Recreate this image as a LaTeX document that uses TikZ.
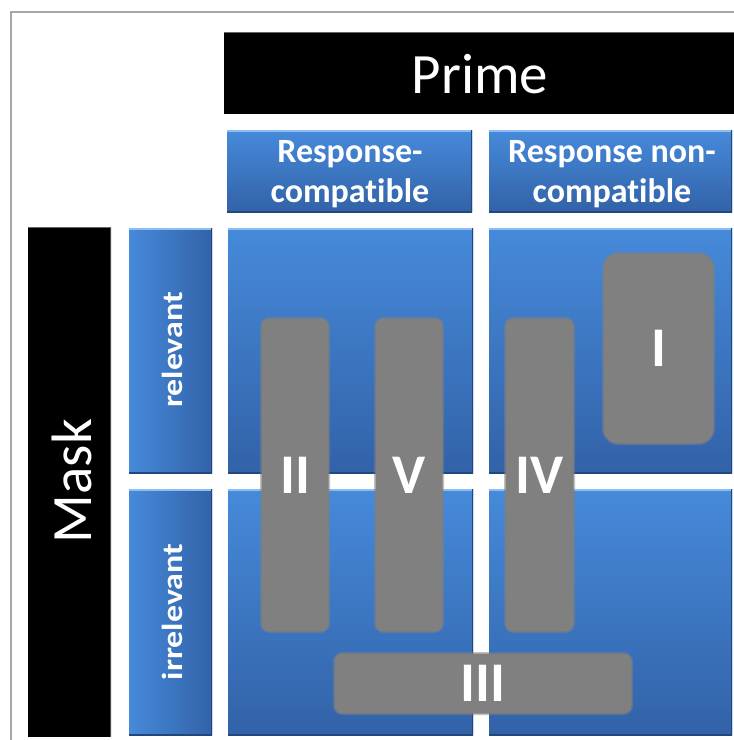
\documentclass[tikz,border=0pt]{standalone}
\usepackage{fontspec}
\setmainfont{Carlito}[Ligatures=NoCommon]
\newfontfamily\labfont{Carlito}[Ligatures=NoCommon, FakeStretch=1.17]
\definecolor{bluetop}{RGB}{70,138,218}
\definecolor{bluebot}{RGB}{50,98,168}
\definecolor{bevlight}{RGB}{140,190,245}
\definecolor{bevdark}{RGB}{35,70,125}
\definecolor{bargray}{RGB}{128,128,128}
\definecolor{framegray}{RGB}{166,166,166}
\tikzset{
  bevelv/.style={path picture={
    \draw[bevlight,line width=3pt] (path picture bounding box.north west) -- (path picture bounding box.north east);
    \draw[bevdark,line width=3pt] (path picture bounding box.north east) -- (path picture bounding box.south east);
    \draw[bevdark,line width=2pt] (path picture bounding box.south west) -- (path picture bounding box.south east);
  }},
  bluev/.style={rectangle, inner sep=0pt, anchor=north west, top color=bluetop, bottom color=bluebot, bevelv},
  blueh/.style={rectangle, inner sep=0pt, anchor=north west, left color=bluetop, right color=bluebot, bevelv},
  headtxt/.style={anchor=base, inner sep=0pt, text=white, font=\bfseries\fontsize{34}{40}\selectfont},
  labtxt/.style={rotate=90, text=white, font=\labfont\bfseries\fontsize{29}{32}\selectfont},
  bigtxt/.style={text=white, font=\fontsize{57}{60}\selectfont},
  blackbox/.style={rectangle, inner sep=0pt, anchor=north west, fill=black,
    path picture={
    \draw[black!70,line width=3pt] (path picture bounding box.north east) -- (path picture bounding box.south east);
    \draw[black!60,line width=2pt] (path picture bounding box.north west) -- (path picture bounding box.north east);}},
  bar/.style={rectangle, inner sep=0pt, anchor=north west, fill=bargray, draw=bargray, draw opacity=0.5,
    line width=3pt, rounded corners=8pt, text=white, font=\bfseries\fontsize{56}{60}\selectfont},
}
\begin{document}
\begin{tikzpicture}[x=1pt,y=-1pt]
\useasboundingbox (0,0) rectangle (734,740);
\fill[white] (0,0) rectangle (734,740);
% frame
\draw[framegray,line width=1.5pt] (11,740) coordinate (fl) -- (11,12) coordinate (fc) -- (734,12) coordinate (fr);
% Prime
\node[blackbox, minimum width=512pt, minimum height=82pt] (prime) at (224,32) {};
\node[bigtxt] (primetxt) at (480,74) {Prime};
% headers
\node[bluev, minimum width=245pt, minimum height=82pt] (hrc) at (227,130) {};
\node[headtxt] (hrc1) at (350,162) {Response-};
\node[headtxt] (hrc2) at (350,202) {compatible};
\node[bluev, minimum width=243pt, minimum height=82pt] (hrn) at (489,130) {};
\node[headtxt] (hrn1) at (612,162) {Response non-};
\node[headtxt] (hrn2) at (612,202) {compatible};
% Mask
\node[blackbox, minimum width=83pt, minimum height=510pt] (mask) at (28,227) {};
\node[bigtxt, rotate=90] (masktxt) at (72,481) {Mask};
% row labels
\node[blueh, minimum width=83pt, minimum height=245pt] (rel) at (129,228) {};
\node[labtxt] (reltxt) at (172,350) {relevant};
\node[blueh, minimum width=83pt, minimum height=246pt] (irr) at (129,489) {};
\node[labtxt] (irrtxt) at (172,612) {irrelevant};
% cells
\node[bluev, minimum width=245pt, minimum height=245pt] (c11) at (228,228) {};
\node[bluev, minimum width=243pt, minimum height=245pt] (c12) at (489,228) {};
\node[bluev, minimum width=245pt, minimum height=246pt] (c21) at (228,489) {};
\node[bluev, minimum width=243pt, minimum height=246pt] (c22) at (489,489) {};
% bars
\node[bar, minimum width=67pt, minimum height=313pt] (b2) at (260,317) {II};
\node[bar, minimum width=67pt, minimum height=313pt] (b5) at (374,317) {V};
\node[bar, minimum width=68pt, minimum height=313pt] (b4) at (504,317) {IV};
\node[bar, rounded corners=15pt, minimum width=110pt, minimum height=190pt] (b1) at (602,252) {I};
\node[bar, minimum width=297pt, minimum height=60pt] (b3) at (333,652) {III};
\end{tikzpicture}
\end{document}
